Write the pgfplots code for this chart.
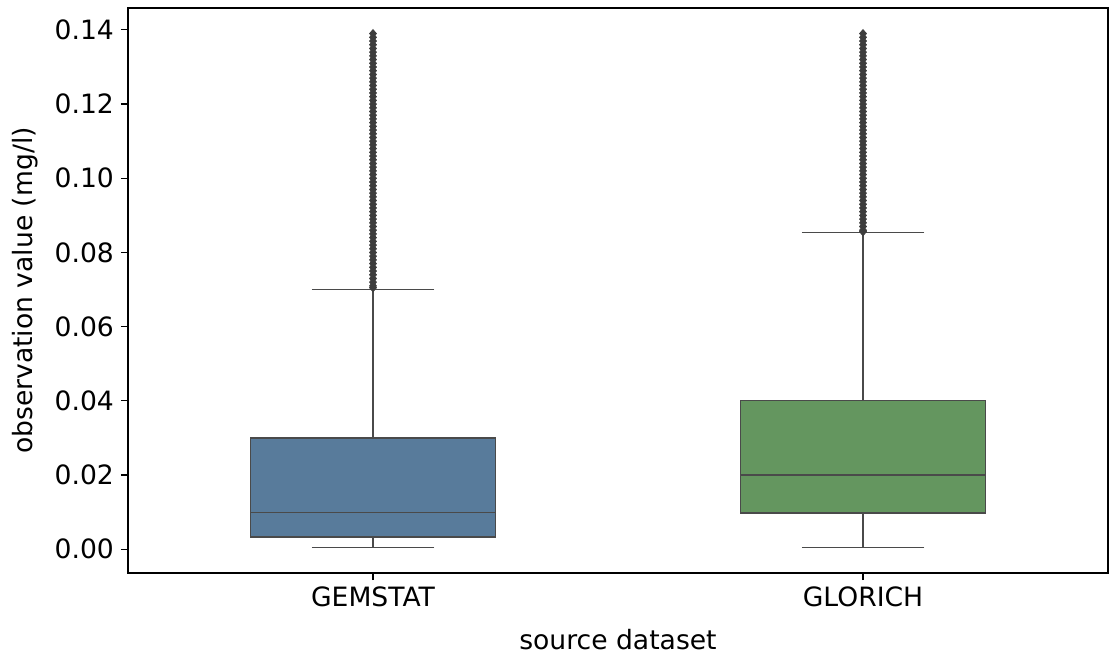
\documentclass[border=0pt]{standalone}
\usepackage{pgfplots}
\pgfplotsset{compat=1.18}
\usepgfplotslibrary{statistics}
\usepackage{fontspec}
\setmainfont{DejaVu Sans}
\definecolor{gemblue}{HTML}{587B9B}
\definecolor{glogreen}{HTML}{64965F}
\definecolor{boxgray}{HTML}{4A4A4A}
\definecolor{flier}{HTML}{3D3D3D}
\begin{document}
\begin{tikzpicture}
\begin{axis}[
  name=ax,
  scale only axis,
  width=490pt, height=282.5pt,
  xmin=-0.5, xmax=1.5,
  ymin=-0.0064, ymax=0.1459,
  boxplot/draw direction=y,
  xtick={0,1}, xticklabels={GEMSTAT,GLORICH},
  ytick={0,0.02,0.04,0.06,0.08,0.10,0.12,0.14},
  yticklabel style={/pgf/number format/.cd,fixed,fixed zerofill,precision=2},
  /pgf/number format/assume math mode=true,
  tick align=outside, xtick pos=bottom, ytick pos=left,
  major tick length=3.5pt,
  tick style={black, line width=0.6pt},
  axis line style={black, line width=0.8pt},
  ticklabel style={font=\fontsize{13.3}{16}\selectfont},
  label style={font=\fontsize{13.3}{16}\selectfont},
  xlabel={source dataset},
  ylabel={observation value (mg/l)},
  xlabel style={yshift=-4pt},
  ylabel style={yshift=1.5pt},
  clip=false,
]
\addplot[boxplot prepared={draw position=0, lower whisker=0.0005, lower quartile=0.0033, median=0.010, upper quartile=0.030, upper whisker=0.070, box extend=0.5, whisker extend=0.25}, fill=gemblue, draw=boxgray, line width=0.6pt] coordinates {};
\addplot[boxplot prepared={draw position=1, lower whisker=0.0005, lower quartile=0.0098, median=0.020, upper quartile=0.040, upper whisker=0.0853, box extend=0.5, whisker extend=0.25}, fill=glogreen, draw=boxgray, line width=0.6pt] coordinates {};
\addplot[only marks, mark=diamond*, mark size=2pt, mark options={xscale=1.15}, color=flier] coordinates {
(0,0.0705)(0,0.071)(0,0.072)(0,0.073)(0,0.074)(0,0.075)(0,0.076)(0,0.077)(0,0.078)(0,0.079)
(0,0.080)(0,0.081)(0,0.082)(0,0.083)(0,0.084)(0,0.085)(0,0.086)(0,0.087)(0,0.088)(0,0.089)
(0,0.090)(0,0.091)(0,0.092)(0,0.093)(0,0.094)(0,0.095)(0,0.096)(0,0.097)(0,0.098)(0,0.099)
(0,0.100)(0,0.101)(0,0.102)(0,0.103)(0,0.104)(0,0.105)(0,0.106)(0,0.107)(0,0.108)(0,0.109)
(0,0.110)(0,0.111)(0,0.112)(0,0.113)(0,0.114)(0,0.115)(0,0.116)(0,0.117)(0,0.118)(0,0.119)
(0,0.120)(0,0.121)(0,0.122)(0,0.123)(0,0.124)(0,0.125)(0,0.126)(0,0.127)(0,0.128)(0,0.129)
(0,0.130)(0,0.131)(0,0.132)(0,0.133)(0,0.134)(0,0.135)(0,0.136)(0,0.137)(0,0.138)(0,0.139)
};
\addplot[only marks, mark=diamond*, mark size=2pt, mark options={xscale=1.15}, color=flier] coordinates {
(1,0.0856)(1,0.086)(1,0.087)(1,0.088)(1,0.089)
(1,0.090)(1,0.091)(1,0.092)(1,0.093)(1,0.094)(1,0.095)(1,0.096)(1,0.097)(1,0.098)(1,0.099)
(1,0.100)(1,0.101)(1,0.102)(1,0.103)(1,0.104)(1,0.105)(1,0.106)(1,0.107)(1,0.108)(1,0.109)
(1,0.110)(1,0.111)(1,0.112)(1,0.113)(1,0.114)(1,0.115)(1,0.116)(1,0.117)(1,0.118)(1,0.119)
(1,0.120)(1,0.121)(1,0.122)(1,0.123)(1,0.124)(1,0.125)(1,0.126)(1,0.127)(1,0.128)(1,0.129)
(1,0.130)(1,0.131)(1,0.132)(1,0.133)(1,0.134)(1,0.135)(1,0.136)(1,0.137)(1,0.138)(1,0.139)
};
\end{axis}
\pgfresetboundingbox
\path ([shift={(-64pt,-41pt)}]ax.south west) rectangle ([shift={(1.5pt,4pt)}]ax.north east);
\end{tikzpicture}
\end{document}
